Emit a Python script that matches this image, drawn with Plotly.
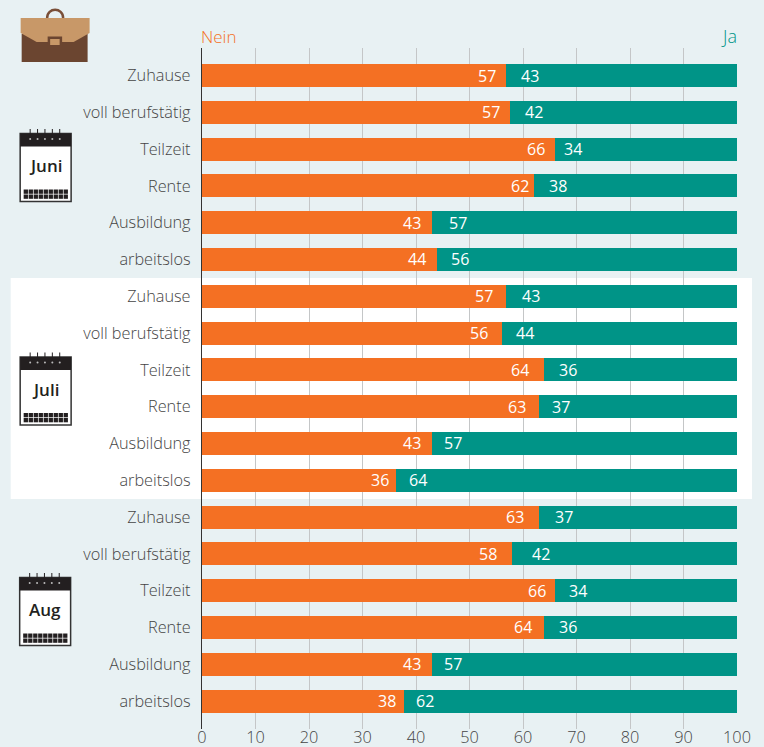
import plotly.graph_objects as go

W, H = 764, 747
L, R, T, B = 201.5, 737, 48, 729

categories = ["Zuhause", "voll berufstätig", "Teilzeit", "Rente", "Ausbildung", "arbeitslos"] * 3
nein_bar = [56.8, 57.6, 66, 62.1, 43, 44,
            56.8, 56, 64, 63, 43, 36.2,
            63, 58, 66, 64, 43, 37.8]
ja_bar = [43.2, 42.4, 34, 37.9, 57, 56,
          43.2, 44, 36, 37, 57, 63.8,
          37, 42, 34, 36, 57, 62.2]
nein_labels = [57, 57, 66, 62, 43, 44, 57, 56, 64, 63, 43, 36, 63, 58, 66, 64, 43, 38]
ja_labels = [43, 42, 34, 38, 57, 56, 43, 44, 36, 37, 57, 64, 37, 42, 34, 36, 57, 62]
x_ticks = [0, 10, 20, 30, 40, 50, 60, 70, 80, 90, 100]
months = ["Juni", "Juli", "Aug"]

ORANGE = "#f47023"
TEAL = "#009487"
BG = "#e8f1f3"
TEXT = "#454545"
FONT = "Open Sans"
DARK = "#231f20"
LIGHT = 300

# distance of each value label from the boundary between the two bars, in pixels (styling only)
nein_gap = [19, 19, 19, 14, 20, 20, 22, 23, 24, 22, 20, 16, 24, 24, 18, 21, 20, 17]
ja_gap = [24, 24, 18, 24, 26, 23, 25, 23, 24, 22, 21, 22, 25, 29, 23, 24, 21, 21]

positions = list(range(len(categories)))

fig = go.Figure()
fig.add_bar(y=positions, x=nein_bar, orientation="h", name="Nein", marker=dict(color=ORANGE, line_width=0))
fig.add_bar(y=positions, x=ja_bar, orientation="h", name="Ja", marker=dict(color=TEAL, line_width=0))


def px(x):
    return (x - L) / (R - L)


def py(y):
    return (B - y) / (B - T)


shapes = []


def rect(x0, y0, x1, y1, fill, line=None, lw=0, layer="above"):
    shapes.append(dict(type="rect", xref="paper", yref="paper", x0=px(x0), x1=px(x1), y0=py(y0), y1=py(y1),
                       fillcolor=fill, line=dict(color=line or fill, width=lw), layer=layer))


def poly(points, fill):
    d = "M" + " L".join(f"{px(x):.5f},{py(y):.5f}" for x, y in points) + " Z"
    shapes.append(dict(type="path", xref="paper", yref="paper", path=d, fillcolor=fill, line_width=0, layer="above"))


# white band behind July
rect(10, 278, 752, 499, "white", layer="below")

# briefcase
BROWN = "#6b4530"
TAN = "#c89868"
shapes.append(dict(type="path", xref="paper", yref="paper",
                   path=f"M{px(46.5)},{py(18)} C{px(46.5)},{py(7)} {px(62.5)},{py(7)} {px(62.5)},{py(18)}",
                   line=dict(color="#7a4f38", width=2.5), layer="above"))
rect(21, 34, 87, 62, BROWN)
poly([(20, 18), (89, 18), (89, 33), (73, 42), (36, 42), (20, 33)], TAN)
rect(47, 36.5, 61.5, 46, BROWN)
rect(49.5, 39, 59, 45, TAN)

annotations = []


def calendar(x0, y0, label):
    x1, y1 = x0 + 51, y0 + 68
    rect(x0, y0, x1, y1, "white", line="#333333", lw=1.5)
    rect(x0, y0, x1, y0 + 13, DARK)
    for i in range(5):
        cx = x0 + 10 + i * 7.4
        shapes.append(dict(type="line", xref="paper", yref="paper", x0=px(cx), x1=px(cx),
                           y0=py(y0 - 4.5), y1=py(y0 + 5), line=dict(color=DARK, width=1), layer="above"))
        shapes.append(dict(type="circle", xref="paper", yref="paper", x0=px(cx - 1), x1=px(cx + 1),
                           y0=py(y0 + 6.5), y1=py(y0 + 4.5), fillcolor="#bbbbbb", line_width=0, layer="above"))
    for r in range(2):
        for c in range(9):
            sx = x0 + 3.5 + c * 5
            sy = y0 + 56 + r * 5
            rect(sx, sy, sx + 4.3, sy + 4.3, DARK)
    annotations.append(dict(xref="paper", yref="paper", x=px(x0 + 25.5), y=py(y0 + 32), text=label,
                            showarrow=False, xanchor="center", yanchor="middle",
                            font=dict(size=17, color=DARK, family=FONT, weight=600)))


calendar(19.5, 133.5, months[0])
calendar(19.5, 357, months[1])
calendar(19, 577.5, months[2])

annotations.append(dict(xref="paper", yref="paper", x=px(198.5), y=py(36.5), text="Nein", showarrow=False,
                        xanchor="left", yanchor="middle", font=dict(size=17, color=ORANGE, family=FONT, weight=LIGHT)))
annotations.append(dict(xref="paper", yref="paper", x=px(739.5), y=py(36.5), text="Ja", showarrow=False,
                        xanchor="right", yanchor="middle", font=dict(size=18, color=TEAL, family=FONT, weight=LIGHT)))

# value labels, placed on the data scale
label_font = dict(size=16, color="white", family=FONT)
for i, pos in enumerate(positions):
    annotations.append(dict(x=nein_bar[i], y=pos, xref="x", yref="y", text=str(nein_labels[i]), showarrow=False,
                            xanchor="center", yanchor="middle", xshift=-nein_gap[i], font=label_font))
    annotations.append(dict(x=nein_bar[i], y=pos, xref="x", yref="y", text=str(ja_labels[i]), showarrow=False,
                            xanchor="center", yanchor="middle", xshift=ja_gap[i], font=label_font))

unit = (701 - 75.5) / 17
tick_font = dict(size=16.3, color=TEXT, family=FONT, weight=LIGHT)
fig.update_layout(
    width=W, height=H, barmode="stack", bargap=0.375, showlegend=False,
    margin=dict(l=L, r=W - R, t=T, b=H - B, pad=0),
    paper_bgcolor=BG, plot_bgcolor="rgba(0,0,0,0)",
    shapes=shapes, annotations=annotations,
    font=dict(family=FONT, color=TEXT),
    xaxis=dict(range=[0, 100], tickvals=x_ticks, showgrid=True, gridcolor="#c4c6c7", gridwidth=1.3,
               zeroline=False, showline=False, ticks="", tickfont=tick_font,
               ticklen=0, automargin=False, ticklabelstandoff=-3),
    yaxis=dict(range=[(B - 75.5) / unit, (T - 75.5) / unit], tickvals=positions, ticktext=categories,
               showgrid=False, zeroline=False, showline=True, linecolor="#333333", linewidth=1.3,
               ticks="outside", ticklen=7, tickcolor="rgba(0,0,0,0)", tickfont=tick_font, automargin=False),
)
fig.write_html("out.html", config={"displayModeBar": False},
               post_script="document.body.style.margin='0';document.documentElement.style.background='#e8f1f3';")
